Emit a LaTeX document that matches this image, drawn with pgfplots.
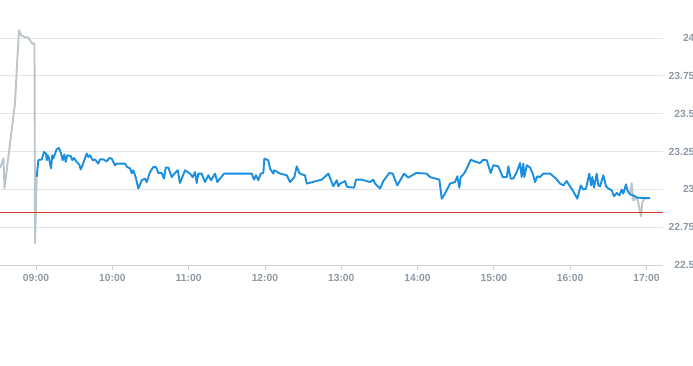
\documentclass[border=0pt]{standalone}
\usepackage{pgfplots}
\pgfplotsset{compat=1.18}
\usepackage{fontspec}
\setmainfont{Liberation Sans}
\definecolor{bluel}{HTML}{1A8FE0}
\definecolor{greyl}{HTML}{BAC5CC}
\definecolor{redl}{HTML}{D9362B}
\definecolor{gridc}{HTML}{E3E5E8}
\definecolor{axc}{HTML}{CCD2D8}
\definecolor{txtc}{HTML}{8F99A3}
\begin{document}
\begin{tikzpicture}
\path[use as bounding box] (0pt,-100pt) rectangle (693pt,265pt);
\begin{axis}[
  at={(0pt,0pt)}, anchor=origin,
  scale only axis, width=663pt, height=265pt,
  xmin=8.528, xmax=17.217, ymin=22.5, ymax=24.251,
  separate axis lines,
  axis x line*=bottom, axis y line*=right,
  x axis line style={draw=axc, line width=0.8pt},
  y axis line style={draw=none},
  xtick={9,10,11,12,13,14,15,16,17},
  xticklabels={09:00,10:00,11:00,12:00,13:00,14:00,15:00,16:00,17:00},
  ytick={22.5,22.75,23,23.25,23.5,23.75,24},
  yticklabels={22.5,22.75,23,23.25,23.5,23.75,24},
  ymajorgrids, grid style={draw=gridc, line width=0.8pt},
  tick align=outside, major tick length=5pt,
  xtick style={draw=axc, line width=0.8pt},
  ytick style={draw=none},
  tick label style={font=\fontsize{10.3}{12}\selectfont\bfseries, text=txtc},
  xticklabel style={yshift=-1pt},
  yticklabel style={anchor=east, xshift=30pt},
  /pgf/number format/assume math mode=true,
  clip=true,
]
\addplot[greyl, line width=1.9pt, line join=round] coordinates {
(8.528,23.139)(8.574,23.205)(8.587,23.007)(8.725,23.569)(8.747,23.787)(8.777,24.052)
(8.803,24.019)(8.856,24.005)(8.895,24.005)(8.928,23.979)(8.960,23.959)(8.980,23.966)
(8.987,22.643)(9.009,23.079)
};
\addplot[greyl, line width=1.9pt, line join=round] coordinates {
(16.785,22.967)(16.807,23.042)(16.828,22.927)(16.873,22.949)(16.894,22.909)(16.929,22.821)
(16.946,22.916)(16.981,22.942)
};
\addplot[bluel, line width=1.9pt, line join=round] coordinates {
(9.009,23.081)(9.030,23.192)(9.075,23.198)(9.105,23.247)(9.131,23.236)(9.140,23.192)
(9.153,23.225)(9.170,23.205)(9.196,23.139)(9.213,23.225)(9.227,23.205)(9.271,23.265)
(9.301,23.273)(9.327,23.238)(9.350,23.192)(9.371,23.231)(9.389,23.181)(9.410,23.225)
(9.455,23.220)(9.476,23.192)(9.498,23.207)(9.533,23.181)(9.567,23.163)(9.586,23.132)
(9.612,23.163)(9.664,23.236)(9.685,23.214)(9.708,23.225)(9.743,23.192)(9.773,23.198)
(9.816,23.170)(9.839,23.198)(9.882,23.198)(9.926,23.185)(9.961,23.207)(9.992,23.203)
(10.013,23.181)(10.035,23.159)(10.057,23.170)(10.166,23.170)(10.196,23.147)(10.232,23.139)
(10.254,23.106)(10.275,23.126)(10.310,23.073)(10.341,23.005)(10.385,23.060)(10.428,23.071)
(10.451,23.048)(10.494,23.114)(10.537,23.147)(10.573,23.147)(10.603,23.108)(10.647,23.108)
(10.677,23.071)(10.700,23.144)(10.734,23.144)(10.778,23.081)(10.822,23.108)(10.857,23.126)
(10.887,23.042)(10.953,23.126)(11.018,23.104)(11.054,23.081)(11.084,23.114)(11.106,23.042)
(11.127,23.104)(11.171,23.104)(11.215,23.048)(11.258,23.093)(11.293,23.060)(11.346,23.104)
(11.376,23.048)(11.464,23.104)(11.827,23.104)(11.857,23.064)(11.883,23.093)(11.913,23.060)
(11.945,23.104)(11.979,23.108)(11.992,23.203)(12.044,23.192)(12.067,23.137)(12.110,23.104)
(12.123,23.126)(12.198,23.104)(12.286,23.093)(12.329,23.048)(12.385,23.081)(12.417,23.152)
(12.451,23.108)(12.482,23.099)(12.525,23.093)(12.548,23.038)(12.744,23.064)(12.831,23.104)
(12.896,23.020)(12.941,23.060)(12.962,23.020)(12.984,23.038)(13.027,23.048)(13.050,23.055)
(13.072,23.020)(13.093,23.015)(13.168,23.011)(13.194,23.064)(13.268,23.064)(13.377,23.048)
(13.421,23.064)(13.443,23.038)(13.508,23.005)(13.552,23.055)(13.630,23.108)(13.675,23.104)
(13.735,23.026)(13.823,23.104)(13.879,23.077)(13.980,23.108)(14.120,23.104)(14.164,23.081)
(14.286,23.064)(14.317,22.938)(14.360,22.972)(14.426,23.038)(14.491,23.048)(14.521,23.086)
(14.548,23.011)(14.566,23.081)(14.609,23.104)(14.645,23.137)(14.697,23.196)(14.767,23.181)
(14.819,23.174)(14.862,23.196)(14.907,23.192)(14.959,23.108)(14.993,23.159)(15.059,23.152)
(15.116,23.081)(15.169,23.081)(15.190,23.152)(15.221,23.071)(15.255,23.071)(15.300,23.114)
(15.343,23.174)(15.365,23.081)(15.386,23.170)(15.400,23.081)(15.431,23.159)(15.474,23.144)
(15.510,23.104)(15.540,23.048)(15.570,23.086)(15.605,23.081)(15.649,23.104)(15.737,23.104)
(15.815,23.071)(15.867,23.038)(15.911,23.026)(15.955,23.055)(15.989,23.026)(16.034,22.993)
(16.094,22.938)(16.139,23.026)(16.173,22.998)(16.208,23.005)(16.251,23.104)(16.274,23.026)
(16.291,23.081)(16.313,23.011)(16.348,23.104)(16.370,23.026)(16.392,23.020)(16.435,23.093)
(16.470,23.020)(16.500,23.005)(16.545,22.993)(16.575,22.954)(16.610,22.976)(16.644,22.960)
(16.676,22.998)(16.697,22.972)(16.732,23.033)(16.750,22.993)(16.785,22.967)(16.820,22.960)
(16.850,22.954)(16.880,22.945)(16.981,22.942)(17.047,22.942)
};
\addplot[redl, line width=0.9pt] coordinates {(8.528,22.848)(17.217,22.848)};
\end{axis}
\end{tikzpicture}
\end{document}
